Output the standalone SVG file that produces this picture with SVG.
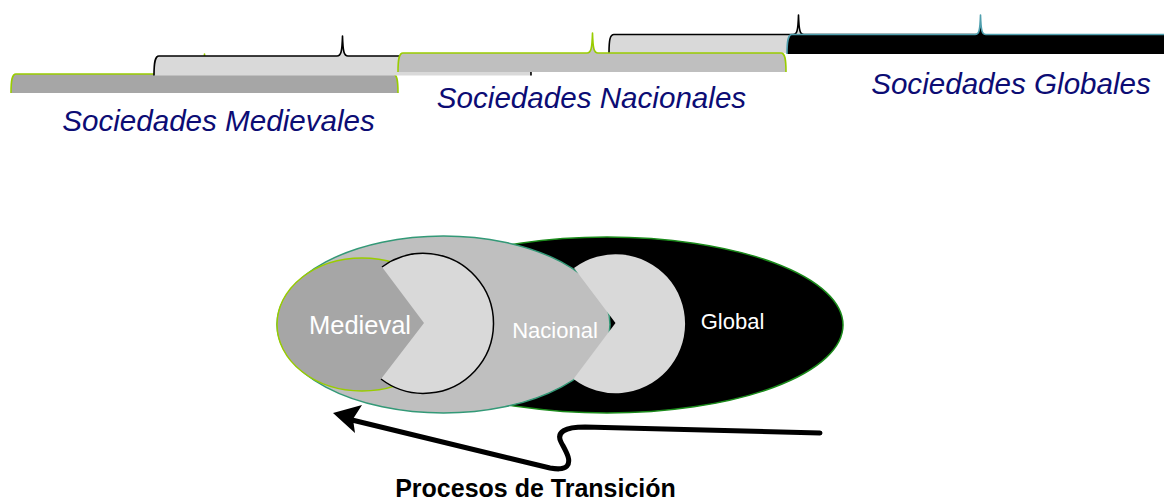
<svg xmlns="http://www.w3.org/2000/svg" width="1164" height="503" viewBox="0 0 1164 503">
<style>
.lbl{font-family:"Liberation Sans",Arial,sans-serif;font-style:italic;font-size:29.6px;fill:#0c0c74}
.in{font-family:"Liberation Sans",Arial,sans-serif;fill:#ffffff}
.br{stroke-width:1.6;stroke-linejoin:round}
</style>
<rect width="1164" height="503" fill="#ffffff"/>
<g id="timeline">
  <g id="bar-medieval"><path class="br" fill="#a6a6a6" stroke="#99cc00" d="M11,93 C11,80 12,74 16,74 L199,74 C203,74 204,70 204.5,54 C205,70 206,74 210,74 L393,74 C397,74 398,80 398,93"/></g>
  <g id="bar-medieval-2"><path class="br" fill="#d9d9d9" stroke="#000000" d="M154,75.5 C154,62 155,56 159,56 L337,56 C341,56 342,52 342.5,36 C343,52 344,56 348,56 L526,56 C530,56 531,62 531,75.5"/></g>
  <g id="bar-nacional-2"><path class="br" fill="#d9d9d9" stroke="#000000" d="M609,53 C609,40 610,34.5 614,34.5 L793,34.5 C797,34.5 798,31 798.5,15 C799,31 800,34.5 804,34.5 L982,34.5 C986,34.5 987,40 987,53"/></g>
  <g id="bar-nacional"><path class="br" fill="#bfbfbf" stroke="#99cc00" d="M398,72 C398,59 399,53 403,53 L587,53 C591,53 592,49 592.5,33 C593,49 594,53 598,53 L781,53 C785,53 786,59 786,72"/></g>
  <g id="bar-global"><path class="br" fill="#000000" stroke="#4f9fae" d="M787,54 C787,41 788,34.5 792,34.5 L975,34.5 C979,34.5 980,31 980.5,15 C981,31 982,34.5 986,34.5 L1168,34.5 C1172,34.5 1173,41 1173,54"/></g>
  <text class="lbl" x="218.5" y="131" text-anchor="middle">Sociedades Medievales</text>
  <text class="lbl" x="591.5" y="108" text-anchor="middle">Sociedades Nacionales</text>
  <text class="lbl" x="1011" y="94" text-anchor="middle">Sociedades Globales</text>
</g>
<g id="node-global">
  <ellipse cx="607" cy="325" rx="236" ry="88" fill="#000000" stroke="#1a8a1a" stroke-width="1.5"/>
</g>
<g id="node-nacional">
  <ellipse cx="443.5" cy="324.5" rx="166.5" ry="88.5" fill="#bfbfbf" stroke="#339977" stroke-width="1.5"/>
</g>
<g id="node-medieval">
  <ellipse cx="362" cy="324.5" rx="85" ry="66.5" fill="#a6a6a6" stroke="#99cc00" stroke-width="1.5"/>
</g>
<g id="notch-1">
  <path d="M382,267 A70,70 0 1 1 381,379 L424,323 Z" fill="#d9d9d9"/>
  <path d="M382,267 A70,70 0 1 1 381,379" fill="none" stroke="#000000" stroke-width="1.5"/>
</g>
<g id="notch-2">
  <path d="M574,268 A69.5,69.5 0 1 1 573.5,379 L615.5,323 Z" fill="#d9d9d9"/>
</g>
<text class="in" x="360" y="334" font-size="25.5" text-anchor="middle">Medieval</text>
<text class="in" x="555" y="338" font-size="22" text-anchor="middle">Nacional</text>
<text class="in" x="732.5" y="329" font-size="22" text-anchor="middle">Global</text>
<g id="connectors">
  <path d="M820,433 L585,427 C565,427 556,432 561,442 C565,450 572,460 567,466 C563,470 556,469 550,468 L352,420" fill="none" stroke="#000000" stroke-width="5" stroke-linecap="round" stroke-linejoin="round"/>
  <path d="M333,413 L362,405 L353,419 L355,433 Z" fill="#000000"/>
</g>
<text x="535.5" y="497" font-family="Liberation Sans, Arial, sans-serif" font-weight="bold" font-size="25" text-anchor="middle" fill="#000000">Procesos de Transición</text>
</svg>
